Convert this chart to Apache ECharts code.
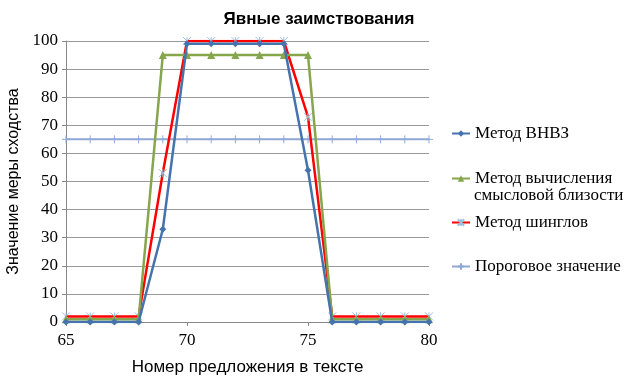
<!DOCTYPE html>
<html><head><meta charset="utf-8">
<script src="https://cdn.jsdelivr.net/npm/echarts@6/dist/echarts.min.js"></script>
<style>html,body{margin:0;padding:0;background:#fff}#c{width:627px;height:379px}</style>
</head><body><div id="c"></div>
<script>
const xs = [65,66,67,68,69,70,71,72,73,74,75,76,77,78,79,80];
const vnvz = [0,0,0,0,33,99,99,99,99,99,54,0,0,0,0,0];
const semantic = [1,1,1,1,95,95,95,95,95,95,95,1,1,1,1,1];
const shingles = [2,2,2,2,53,100,100,100,100,100,73,2,2,2,2,2];
const threshold = [65,65,65,65,65,65,65,65,65,65,65,65,65,65,65,65];
const names = ['Метод ВНВЗ','Метод вычисления','Метод шинглов','Пороговое значение'];
const pair = a => xs.map((x,i)=>[x,a[i]]);
const serif = 'Times New Roman, serif';
const sans = 'Liberation Sans';
const plus = 'path://M0,5L10,5M5,0L5,10';
const star = 'path://M0,0L10,10M10,0L0,10M5,0L5,10';
const chart = echarts.init(document.getElementById('c'));
const leg = (name, top) => ({orient:'vertical', left:446, top:top, data:[name], itemWidth:18, itemHeight:8, itemGap:0,
  textStyle:{fontFamily:serif, fontSize:17, color:'#000'}, selectedMode:false});
chart.setOption({
  animation:false,
  title:{text:'Явные заимствования', left:314, top:6, textAlign:'center',
    textStyle:{fontFamily:sans, fontSize:17, fontWeight:'bold', color:'#000'}},
  legend:[leg(names[0],120), leg(names[1],165), leg(names[2],209), leg(names[3],253)],
  graphic:[{type:'text', left:474, top:187, style:{text:'смысловой близости', fontFamily:serif, fontSize:17, fill:'#000'}}],
  grid:{left:66, right:198, top:41, bottom:57, outerBoundsMode:'none', containLabel:false},
  xAxis:{type:'value', min:65, max:80, interval:5,
    name:'Номер предложения в тексте', nameLocation:'middle', nameGap:37,
    nameTextStyle:{fontFamily:sans, fontSize:17, color:'#000'},
    axisLine:{lineStyle:{color:'#888'}}, axisTick:{show:true, length:4, lineStyle:{color:'#888'}},
    splitLine:{show:false},
    axisLabel:{fontFamily:serif, fontSize:17, color:'#000', margin:10}},
  yAxis:{type:'value', min:0, max:100, interval:10,
    name:'Значение меры сходства', nameLocation:'middle', nameGap:44,
    nameTextStyle:{fontFamily:sans, fontSize:16, color:'#000'},
    axisLine:{show:true, lineStyle:{color:'#888'}}, axisTick:{show:true, length:4, lineStyle:{color:'#888'}},
    splitLine:{lineStyle:{color:'#999'}},
    axisLabel:{fontFamily:serif, fontSize:17, color:'#000', margin:8}},
  series:[
    {name:names[3], type:'line', data:pair(threshold), symbol:plus, symbolSize:8, z:1,
      lineStyle:{color:'#8FA8D8', width:2}, itemStyle:{color:'#8FA8D8', borderColor:'#8FA8D8', borderWidth:1}},
    {name:names[2], type:'line', data:pair(shingles), symbol:star, symbolSize:8, z:2,
      lineStyle:{color:'#FF0000', width:2.5}, itemStyle:{color:'#FF0000', borderColor:'#9CC0E0', borderWidth:1}},
    {name:names[1], type:'line', data:pair(semantic), symbol:'triangle', symbolSize:8, z:3,
      lineStyle:{color:'#86A64E', width:2.5}, itemStyle:{color:'#86A64E'}},
    {name:names[0], type:'line', data:pair(vnvz), symbol:'diamond', symbolSize:7, z:4,
      lineStyle:{color:'#4573AE', width:2.5}, itemStyle:{color:'#4573AE'}}
  ]
});
</script></body></html>
